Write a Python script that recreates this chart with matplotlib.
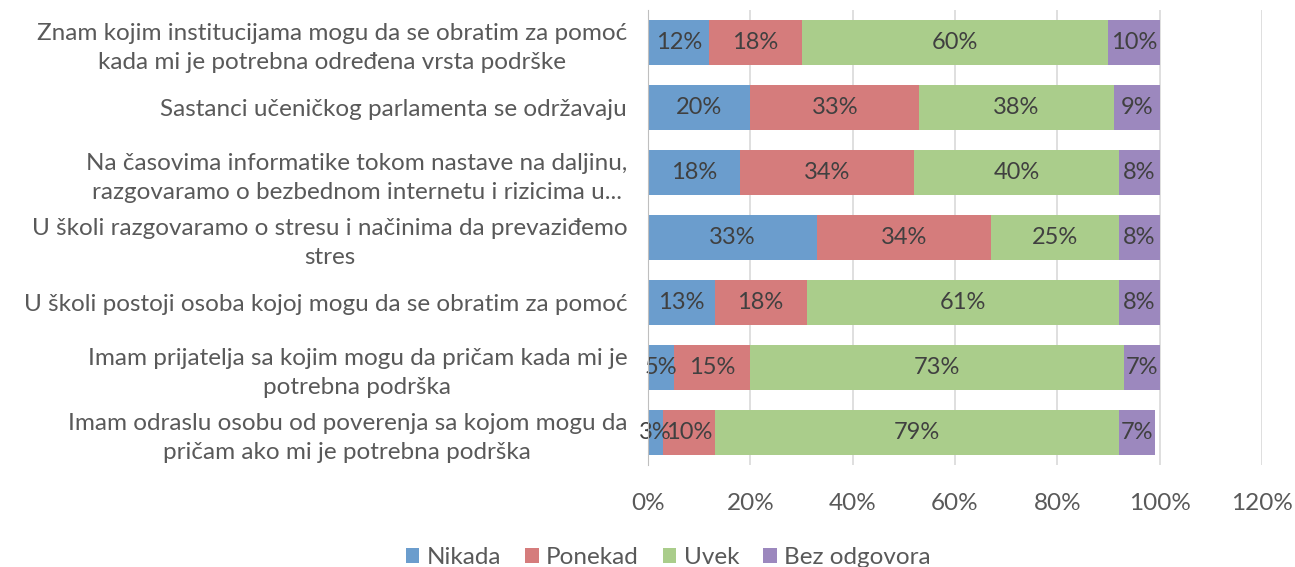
import matplotlib.pyplot as plt
import numpy as np

plt.rcParams['font.family'] = ['Lato', 'DejaVu Sans']

questions = [
    "Znam kojim institucijama mogu da se obratim za pomoć\nkada mi je potrebna određena vrsta podrške",
    "Sastanci učeničkog parlamenta se održavaju",
    "Na časovima informatike tokom nastave na daljinu,\nrazgovaramo o bezbednom internetu i rizicima u...",
    "U školi razgovaramo o stresu i načinima da prevaziđemo\nstres",
    "U školi postoji osoba kojoj mogu da se obratim za pomoć",
    "Imam prijatelja sa kojim mogu da pričam kada mi je\npotrebna podrška",
    "Imam odraslu osobu od poverenja sa kojom mogu da\npričam ako mi je potrebna podrška",
]
series_names = ["Nikada", "Ponekad", "Uvek", "Bez odgovora"]
nikada = [12, 20, 18, 33, 13, 5, 3]
ponekad = [18, 33, 34, 34, 18, 15, 10]
uvek = [60, 38, 40, 25, 61, 73, 79]
bez_odgovora = [10, 9, 8, 8, 8, 7, 7]
colors = ["#6b9dcd", "#d57c7c", "#aacd8b", "#9c88be"]

fig = plt.figure(figsize=(12.95, 5.67), dpi=100)
ax = fig.add_axes([0.5004, 0.18, 0.4741, 0.8024])

y = np.arange(len(questions))
left = np.zeros(len(questions))
for name, vals, col in zip(series_names, [nikada, ponekad, uvek, bez_odgovora], colors):
    vals = np.array(vals) / 100.0
    bars = ax.barh(y, vals, left=left, height=0.68, color=col, label=name, zorder=3)
    for yi, l, v in zip(y, left, vals):
        ax.text(l + v / 2, yi, "%d%%" % round(v * 100), ha='center', va='center',
                fontsize=17, color='#404040', zorder=4)
    left = left + vals

ax.set_xlim(0, 1.2)
ax.set_ylim(len(questions) - 0.5, -0.5)
ax.set_xticks(np.arange(0, 1.21, 0.2))
ax.set_xticklabels(["%d%%" % t for t in range(0, 121, 20)])
ax.set_yticks(y)
ax.set_yticklabels(questions, ma='center', linespacing=1.45)
ax.tick_params(axis='both', length=0, labelsize=17.5, colors='#595959')
ax.tick_params(axis='x', pad=20)
ax.tick_params(axis='y', pad=15)
ax.grid(axis='x', color='#d9d9d9', linewidth=1.2, zorder=0)
for s in ['top', 'right', 'bottom']:
    ax.spines[s].set_visible(False)
ax.spines['left'].set_color('#bfbfbf')
ax.spines['left'].set_zorder(5)

fig.legend(loc='lower center', bbox_to_anchor=(0.516, -0.04), ncol=4, frameon=False,
           fontsize=17.5, handlelength=0.55, handleheight=0.55, handletextpad=0.3,
           columnspacing=1.0, labelcolor='#595959')

fig.savefig("out.png", dpi=100)
